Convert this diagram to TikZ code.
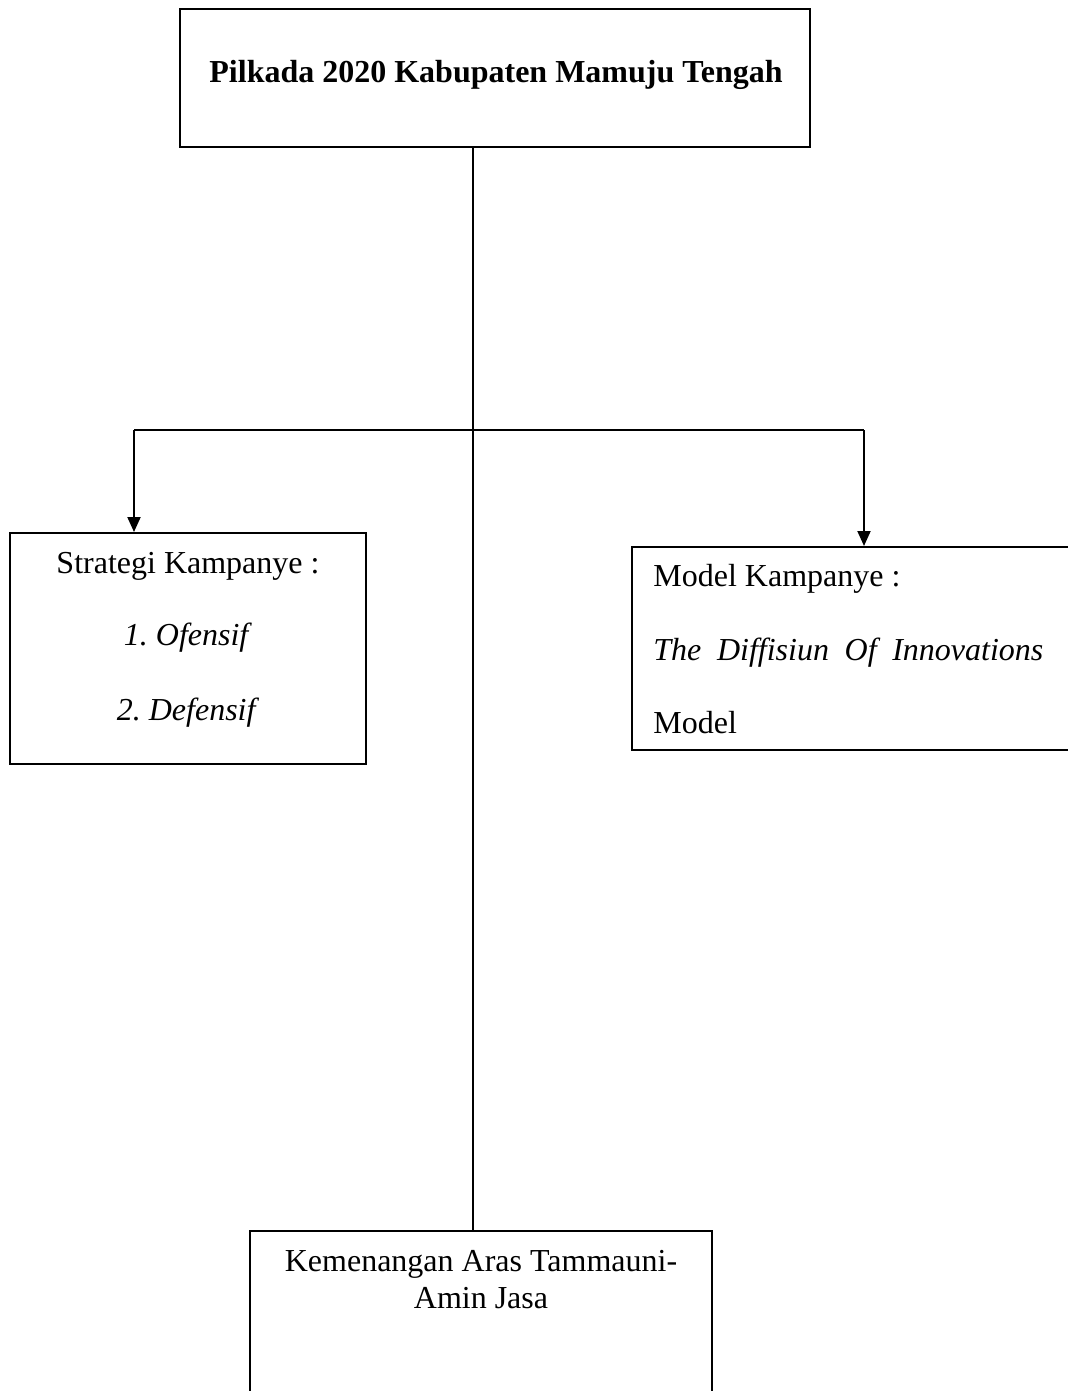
\documentclass[tikz,border=0pt]{standalone}
\usepackage{fontspec}
\setmainfont{Liberation Serif}
\frenchspacing
\usetikzlibrary{arrows.meta,fit}
\tikzset{
  box/.style={draw=black, line width=1pt, inner sep=0pt, rectangle},
  lbl/.style={inner sep=0pt, font=\fontsize{16}{18.5}\selectfont},
  link/.style={draw=black, line width=1pt},
  arr/.style={link, -{Triangle[width=6.5pt,length=7.5pt]}}
}
\begin{document}
\begin{tikzpicture}[x=0.5pt,y=-0.5pt]
\clip (0,0) rectangle (1068,1391);
\fill[white] (0,0) rectangle (1068,1391);
% boxes
\node[box, fit={(180,9) (810,147)}] (top) {};
\node[box, fit={(10,533) (366,764)}] (strat) {};
\node[box, fit={(632,547) (1110,750)}] (model) {};
\node[box, fit={(250,1231) (712,1430)}] (bot) {};
% texts
\node[lbl, anchor=base] (ttop) at (496,83) {\textbf{Pilkada 2020 Kabupaten Mamuju Tengah}};
\node[lbl, anchor=base] (s1) at (188,573) {Strategi Kampanye :};
\node[lbl, anchor=base] (s2) at (188,645) {\textit{1.\ Ofensif}};
\node[lbl, anchor=base] (s3) at (188,720) {\textit{2.\ Defensif}};
\node[lbl, anchor=base west] (m1) at (653,586) {Model Kampanye :};
\node[lbl, anchor=base west] (m2) at (653,660) {\makebox[195pt][s]{\textit{The Diffisiun Of Innovations}}};
\node[lbl, anchor=base west] (m3) at (653,733) {Model};
\node[lbl, anchor=base] (b1) at (481,1271) {Kemenangan Aras Tammauni-};
\node[lbl, anchor=base] (b2) at (481,1308) {Amin Jasa};
% connectors
\coordinate (j) at (473,430);
\coordinate (jl) at (134,430);
\coordinate (jr) at (864,430);
\draw[link] (top.south -| j) -- (bot.north -| j);
\draw[link] (jl) -- (jr);
\draw[arr] (jl) -- (jl |- strat.north);
\draw[arr] (jr) -- (jr |- model.north);
\end{tikzpicture}
\end{document}
